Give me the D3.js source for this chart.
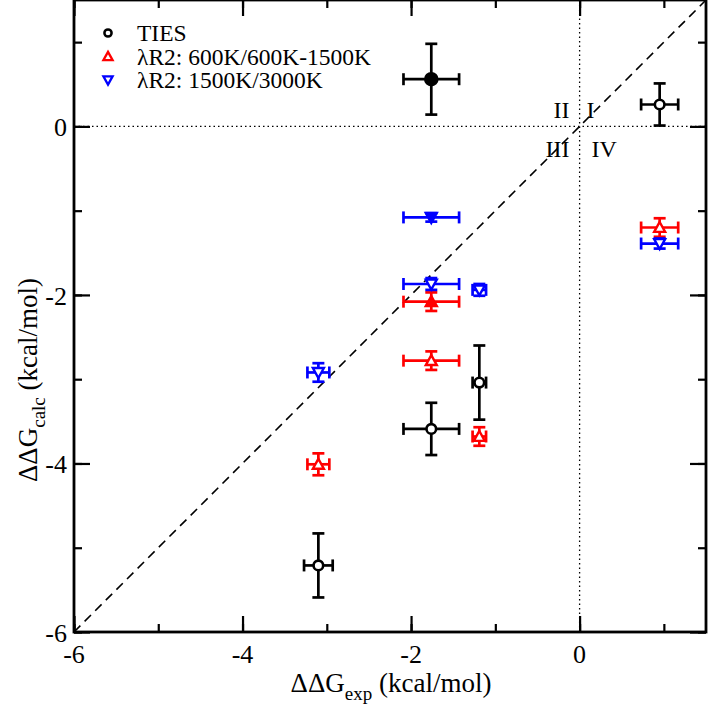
<!DOCTYPE html>
<html><head><meta charset="utf-8">
<script src="https://cdn.jsdelivr.net/npm/d3@7"></script>
<style>body{margin:0;background:#fff}svg{display:block}</style>
</head><body>
<svg id="c" width="708" height="710" font-family="'Liberation Serif', 'Times New Roman', serif"></svg>
<script>
// Data: x, x error, y, y error, filled flag
const tiesX   = [-1.76, 0.95, -1.19, -1.76, -3.10];
const tiesXe  = [0.33, 0.22, 0.08, 0.33, 0.17];
const tiesY   = [0.56, 0.26, -3.04, -3.59, -5.21];
const tiesYe  = [0.42, 0.25, 0.44, 0.31, 0.38];
const tiesF   = [true, false, false, false, false];

const r600X  = [0.95, -1.76, -1.76, -1.19, -3.10];
const r600Xe = [0.22, 0.33, 0.33, 0.08, 0.13];
const r600Y  = [-1.20, -2.08, -2.78, -3.68, -4.01];
const r600Ye = [0.11, 0.11, 0.11, 0.11, 0.13];
const r600F  = [false, true, false, false, false];

const r1500X  = [0.95, -1.76, -1.76, -1.19, -3.10];
const r1500Xe = [0.22, 0.33, 0.33, 0.08, 0.13];
const r1500Y  = [-1.39, -1.08, -1.87, -1.94, -2.92];
const r1500Ye = [0.06, 0.05, 0.07, 0.07, 0.11];
const r1500F  = [false, true, false, false, false];

const xTicks = [-6, -4, -2, 0];
const yTicks = [-6, -4, -2, 0];
const legendLabels = ["TIES", "λR2: 600K/600K-1500K", "λR2: 1500K/3000K"];
const quadLabels = ["II", "I", "III", "IV"];

const svg = d3.select("#c");
const L = 74, R = 706, T = 0, B = 632;
const x = d3.scaleLinear().domain([-6, 1.5]).range([L, R]);
const y = d3.scaleLinear().domain([-6, 1.5]).range([B, T]);

// reference lines
const g = svg.append("g");
g.append("line").attr("x1", x(-6)).attr("x2", x(1.5)).attr("y1", y(0)).attr("y2", y(0))
  .attr("stroke", "#000").attr("stroke-width", 1.3).attr("stroke-dasharray", "1.5,3");
g.append("line").attr("x1", x(0)).attr("x2", x(0)).attr("y1", y(-6)).attr("y2", y(1.5))
  .attr("stroke", "#000").attr("stroke-width", 1.3).attr("stroke-dasharray", "1.5,3");
g.append("line").attr("x1", x(-6)).attr("x2", x(1.5)).attr("y1", y(-6)).attr("y2", y(1.5))
  .attr("stroke", "#000").attr("stroke-width", 1.6).attr("stroke-dasharray", "9,6");

// quadrant labels
const qx = [x(0) - 10, x(0) + 7, x(0) - 10, x(0) + 12];
const qy = [y(0) - 8, y(0) - 8, y(0) + 31, y(0) + 31];
const qa = ["end", "start", "end", "start"];
quadLabels.forEach((q, i) => {
  g.append("text").attr("x", qx[i]).attr("y", qy[i]).attr("text-anchor", qa[i])
    .attr("font-size", 24).text(q);
});

function markerPts(shape, cx, cy, h) {
  return shape === "up"
    ? [[cx, cy - h], [cx + h, cy + h * 0.8], [cx - h, cy + h * 0.8]]
    : [[cx, cy + h], [cx + h, cy - h * 0.8], [cx - h, cy - h * 0.8]];
}

// series
function drawSeries(X, Xe, Y, Ye, F, color, shape) {
  const s = svg.append("g");
  X.forEach((xv, i) => {
    const cx = x(xv), cy = y(Y[i]);
    const eg = s.append("g").attr("stroke", color).attr("stroke-width", 2.7).attr("fill", "none");
    const x0 = x(xv - Xe[i]), x1 = x(xv + Xe[i]);
    const y0 = y(Y[i] - Ye[i]), y1 = y(Y[i] + Ye[i]);
    eg.append("line").attr("x1", x0).attr("x2", x1).attr("y1", cy).attr("y2", cy);
    eg.append("line").attr("x1", x0).attr("x2", x0).attr("y1", cy - 6).attr("y2", cy + 6);
    eg.append("line").attr("x1", x1).attr("x2", x1).attr("y1", cy - 6).attr("y2", cy + 6);
    eg.append("line").attr("x1", cx).attr("x2", cx).attr("y1", y0).attr("y2", y1);
    eg.append("line").attr("x1", cx - 6).attr("x2", cx + 6).attr("y1", y0).attr("y2", y0);
    eg.append("line").attr("x1", cx - 6).attr("x2", cx + 6).attr("y1", y1).attr("y2", y1);
    if (shape === "circle") {
      s.append("circle").attr("cx", cx).attr("cy", cy).attr("r", F[i] ? 6 : 4.8)
        .attr("fill", F[i] ? color : "#fff").attr("stroke", color).attr("stroke-width", 2.6);
    } else {
      s.append("polygon").attr("points", markerPts(shape, cx, cy, 5.5).map(p => p.join(",")).join(" "))
        .attr("fill", F[i] ? color : "#fff").attr("stroke", color).attr("stroke-width", 2.4);
    }
  });
}
drawSeries(tiesX, tiesXe, tiesY, tiesYe, tiesF, "#000", "circle");
drawSeries(r600X, r600Xe, r600Y, r600Ye, r600F, "#ff0000", "up");
drawSeries(r1500X, r1500Xe, r1500Y, r1500Ye, r1500F, "#0000ff", "down");

// inside ticks on all sides
const minorV = d3.range(-6, 1.51, 1), majorV = d3.range(-6, 1.51, 2);
function addTicks(axisFn, scale, vals, size, tx, ty) {
  const a = svg.append("g").attr("transform", `translate(${tx},${ty})`)
    .call(axisFn(scale).tickValues(vals).tickSizeInner(-size).tickSizeOuter(0).tickFormat(""));
  a.select(".domain").remove();
  a.selectAll("line").attr("stroke", "#000").attr("stroke-width", 2.2);
}
addTicks(d3.axisBottom, x, minorV, 8, 0, B);
addTicks(d3.axisBottom, x, majorV, 16, 0, B);
addTicks(d3.axisTop, x, minorV, 8, 0, T);
addTicks(d3.axisTop, x, majorV, 16, 0, T);
addTicks(d3.axisLeft, y, minorV, 8, L, 0);
addTicks(d3.axisLeft, y, majorV, 16, L, 0);
addTicks(d3.axisRight, y, minorV, 8, R, 0);
addTicks(d3.axisRight, y, majorV, 16, R, 0);

// frame
svg.append("rect").attr("x", L).attr("y", T).attr("width", R - L).attr("height", B - T)
  .attr("fill", "none").attr("stroke", "#000").attr("stroke-width", 2.8);

// tick labels
xTicks.forEach(v => {
  svg.append("text").attr("x", x(v)).attr("y", B + 31).attr("text-anchor", "middle")
    .attr("font-size", 26).text(v);
});
yTicks.forEach(v => {
  svg.append("text").attr("x", L - 7).attr("y", y(v) + 10).attr("text-anchor", "end")
    .attr("font-size", 26).text(v);
});

// axis titles
const xt = svg.append("text").attr("x", 391).attr("y", 692).attr("text-anchor", "middle").attr("font-size", 27);
xt.append("tspan").text("ΔΔG");
xt.append("tspan").attr("font-size", 19).attr("dy", 8).text("exp");
xt.append("tspan").attr("dy", -8).text(" (kcal/mol)");
const yt = svg.append("text").attr("transform", "translate(37,380) rotate(-90)").attr("text-anchor", "middle").attr("font-size", 27);
yt.append("tspan").text("ΔΔG");
yt.append("tspan").attr("font-size", 19).attr("dy", 8).text("calc");
yt.append("tspan").attr("dy", -8).text(" (kcal/mol)");

// legend
const shapes = ["circle", "up", "down"], colors = ["#000", "#ff0000", "#0000ff"];
legendLabels.forEach((lab, i) => {
  const ly = 33 + i * 23.5;
  const lg = svg.append("g");
  if (shapes[i] === "circle") {
    lg.append("circle").attr("cx", 108).attr("cy", ly).attr("r", 3.6).attr("fill", "#fff")
      .attr("stroke", colors[i]).attr("stroke-width", 2.5);
  } else {
    lg.append("polygon").attr("points", markerPts(shapes[i], 108, ly, 4.6).map(p => p.join(",")).join(" "))
      .attr("fill", "#fff").attr("stroke", colors[i]).attr("stroke-width", 2.3);
  }
  lg.append("text").attr("x", 137).attr("y", ly + 8).attr("font-size", 23.5).text(lab);
});
</script>
</body></html>
